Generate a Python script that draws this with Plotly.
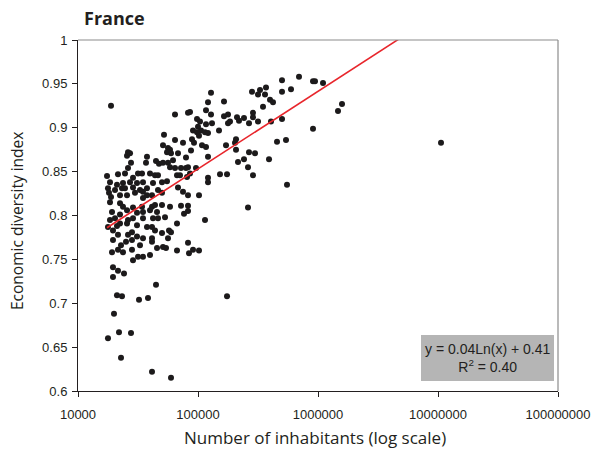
import plotly.graph_objects as go
import math

# ---- data ----
population = [
    18840, 52080, 51090, 26100, 25610, 27130, 27650, 37580, 36870, 44670, 47320, 51090,
    26100, 24640, 21540, 17450, 31620, 34150, 39810, 43820, 46420, 28730,
    128330, 121150, 164710, 85770, 82540, 116590, 64330, 128330, 164710, 177830, 98110,
    103920, 177830, 116590, 130820, 90860, 100000, 105930, 98110, 114370, 121150, 149620,
    101940, 89130, 64330, 92620, 74990, 116590, 107980, 171150, 56230, 58430, 55170,
    59570, 68130, 87440, 121150, 79430, 61900, 56230, 58430, 64330, 72170, 79430, 82540,
    96240, 66830, 70790, 80970, 85770, 121150, 152520, 174470,
    18480, 23710, 27130, 31020, 34810, 42170, 50120, 17780, 23260, 28730, 37580, 46420,
    22390, 25610, 29850, 34810, 41370, 50120, 18480, 22390, 34810, 25610, 28730, 34150,
    41370, 50120, 19200, 22390, 31020, 34810, 39810, 45540, 20340, 26100, 28730, 34810,
    42170, 46420, 17780, 22390, 25610, 37580, 41370, 19570, 28180, 50120, 21540, 26100,
    31020, 34810, 41370, 19570, 25120, 28180, 41370, 51090, 19200, 21540, 23710, 28180,
    45540, 31620, 34810, 28730, 39810, 19570, 21540, 24170, 19570,
    18130, 18840, 20340, 21130, 24640, 32860, 37580, 43820, 23710, 18480, 21130, 31020,
    43820, 22820, 32860,
    55170, 121150, 68130, 74990, 82540, 101940, 58430, 72170, 82540, 82540, 76450, 53090,
    66830, 114370, 57320, 59570, 56230, 82540, 54120, 66830, 84140, 90860, 101940,
    44670, 21130, 23260, 32240, 38310, 174470, 19950, 21960, 27650, 17780, 22820, 41370,
    59570,
    501190, 694470, 908560, 944060, 1101000, 368690, 328570, 316230, 281840, 361680,
    501190, 595660, 398110, 421700, 348070, 287300, 211350, 219620, 241660, 287300,
    266070, 316230, 405840, 501190, 184790, 1584900, 1467800, 908560, 207360, 203420,
    455400, 541170, 207360, 266070, 298540, 215440, 241660, 261020, 390620, 287300,
    551650, 261020, 10592500,
]
diversity = [
    0.925, 0.892, 0.880, 0.872, 0.868, 0.871, 0.860, 0.867, 0.860, 0.862, 0.859, 0.860,
    0.854, 0.848, 0.847, 0.845, 0.848, 0.848, 0.848, 0.846, 0.846, 0.843,
    0.940, 0.929, 0.930, 0.918, 0.917, 0.920, 0.915, 0.915, 0.913, 0.915, 0.910,
    0.907, 0.905, 0.904, 0.905, 0.897, 0.901, 0.897, 0.895, 0.895, 0.894, 0.897,
    0.891, 0.887, 0.886, 0.883, 0.883, 0.878, 0.880, 0.880, 0.877, 0.875, 0.872,
    0.871, 0.871, 0.874, 0.867, 0.866, 0.863, 0.860, 0.855, 0.854, 0.854, 0.854, 0.855,
    0.854, 0.846, 0.846, 0.844, 0.848, 0.843, 0.847, 0.847,
    0.838, 0.837, 0.838, 0.837, 0.838, 0.837, 0.838, 0.831, 0.831, 0.832, 0.831, 0.829,
    0.823, 0.823, 0.826, 0.827, 0.823, 0.826, 0.815, 0.814, 0.820, 0.806, 0.809, 0.810,
    0.810, 0.812, 0.804, 0.801, 0.803, 0.804, 0.806, 0.804, 0.797, 0.795, 0.797, 0.797,
    0.797, 0.797, 0.787, 0.791, 0.791, 0.787, 0.787, 0.783, 0.781, 0.780, 0.778, 0.778,
    0.776, 0.774, 0.774, 0.772, 0.770, 0.772, 0.770, 0.764, 0.758, 0.761, 0.758, 0.761,
    0.763, 0.753, 0.753, 0.749, 0.755, 0.741, 0.737, 0.734, 0.730,
    0.826, 0.821, 0.829, 0.835, 0.831, 0.829, 0.823, 0.812, 0.810, 0.795, 0.788, 0.789,
    0.783, 0.766, 0.766,
    0.839, 0.838, 0.832, 0.827, 0.823, 0.823, 0.810, 0.811, 0.811, 0.805, 0.802, 0.798,
    0.791, 0.795, 0.783, 0.781, 0.774, 0.769, 0.763, 0.760, 0.757, 0.761, 0.760,
    0.721, 0.709, 0.708, 0.704, 0.706, 0.708, 0.688, 0.667, 0.666, 0.660, 0.638, 0.622,
    0.615,
    0.954, 0.958, 0.953, 0.953, 0.951, 0.946, 0.943, 0.938, 0.941, 0.938,
    0.941, 0.944, 0.932, 0.929, 0.924, 0.917, 0.912, 0.908, 0.911, 0.912,
    0.905, 0.907, 0.907, 0.910, 0.907, 0.927, 0.919, 0.899, 0.887, 0.883,
    0.884, 0.886, 0.875, 0.872, 0.871, 0.861, 0.864, 0.855, 0.864, 0.846,
    0.835, 0.809, 0.883,
]

trend_slope = 0.0384      # coefficient of ln(x)
trend_intercept = 0.411

x_ticks = [10000, 100000, 1000000, 10000000, 100000000]
x_tick_labels = ["10000", "100000", "1000000", "10000000", "100000000"]
y_ticks = [0.6, 0.65, 0.7, 0.75, 0.8, 0.85, 0.9, 0.95, 1.0]
y_tick_labels = ["0.6", "0.65", "0.7", "0.75", "0.8", "0.85", "0.9", "0.95", "1"]

chart_title = "France"
x_title = "Number of inhabitants (log scale)"
y_title = "Economic diversity index"
equation_text = "y = 0.04Ln(x) + 0.41<br>R<sup>2</sup> = 0.40"

# ---- figure ----
x_line = [min(population), max(population)]
y_line = [trend_slope * math.log(v) + trend_intercept for v in x_line]

W, H = 592, 450
ML, MR, MT, MB = 78, 34, 40, 59
PW, PH = W - ML - MR, H - MT - MB


def px(xp):
    return (xp - ML) / PW


def py(yp):
    return (H - MB - yp) / PH


fig = go.Figure()
fig.add_trace(go.Scatter(
    x=population, y=diversity, mode="markers",
    marker=dict(size=6, color="#1c1a1b", line=dict(width=0)),
    showlegend=False, hoverinfo="x+y",
))
fig.add_trace(go.Scatter(
    x=x_line, y=y_line, mode="lines",
    line=dict(color="#e8262c", width=1.6),
    showlegend=False, hoverinfo="skip",
))

tick_font = dict(family="Liberation Sans, Arial, sans-serif", size=13, color="#231f20")

fig.update_layout(
    width=W, height=H, autosize=False,
    margin=dict(l=ML, r=MR, t=MT, b=MB, pad=0, autoexpand=False),
    paper_bgcolor="white", plot_bgcolor="white",
    xaxis=dict(
        type="log", range=[4, 8], tickvals=x_ticks, ticktext=x_tick_labels,
        ticks="outside", ticklen=5, tickcolor="#231f20", tickwidth=1,
        showline=True, linecolor="#231f20", linewidth=1,
        showgrid=False, zeroline=False, tickfont=tick_font,
        ticklabelstandoff=6, automargin=False,
    ),
    yaxis=dict(
        range=[0.6, 1.0], tickvals=y_ticks, ticktext=y_tick_labels,
        ticks="outside", ticklen=5, tickcolor="#231f20", tickwidth=1,
        showline=True, linecolor="#231f20", linewidth=1,
        showgrid=False, zeroline=False, tickfont=tick_font,
        ticklabelstandoff=2, automargin=False,
    ),
    shapes=[
        dict(type="line", xref="paper", yref="paper", x0=0, x1=1, y0=1, y1=1,
             line=dict(color="#8c8c8c", width=1.2)),
        dict(type="line", xref="paper", yref="paper", x0=1, x1=1, y0=0, y1=1,
             line=dict(color="#8c8c8c", width=1.2)),
        dict(type="rect", xref="paper", yref="paper",
             x0=px(421), x1=px(554), y0=py(381), y1=py(335),
             fillcolor="#b5b5b5", line=dict(width=0), layer="above"),
    ],
    annotations=[
        dict(text="<b>" + chart_title + "</b>", xref="paper", yref="paper",
             x=px(82), y=py(18), xanchor="left", yanchor="middle", showarrow=False,
             font=dict(family="Open Sans, sans-serif", size=18, color="#231f20")),
        dict(text=x_title, xref="paper", yref="paper",
             x=px(315), y=py(437), xanchor="center", yanchor="middle", showarrow=False,
             font=dict(family="Open Sans, sans-serif", size=17, color="#231f20")),
        dict(text=y_title, xref="paper", yref="paper", textangle=-90,
             x=px(17), y=py(221), xanchor="center", yanchor="middle", showarrow=False,
             font=dict(family="Open Sans, sans-serif", size=15.5, color="#231f20")),
        dict(text=equation_text, xref="paper", yref="paper",
             x=px(487.5), y=py(358), xanchor="center", yanchor="middle", showarrow=False,
             align="center",
             font=dict(family="Liberation Sans, Arial, sans-serif", size=14, color="#231f20")),
    ],
)

fig.write_html(
    "out.html",
    config={"displayModeBar": False, "responsive": False},
    post_script=("document.documentElement.style.overflow='hidden';"
                 "document.body.style.margin='0';document.body.style.overflow='hidden';"),
)
